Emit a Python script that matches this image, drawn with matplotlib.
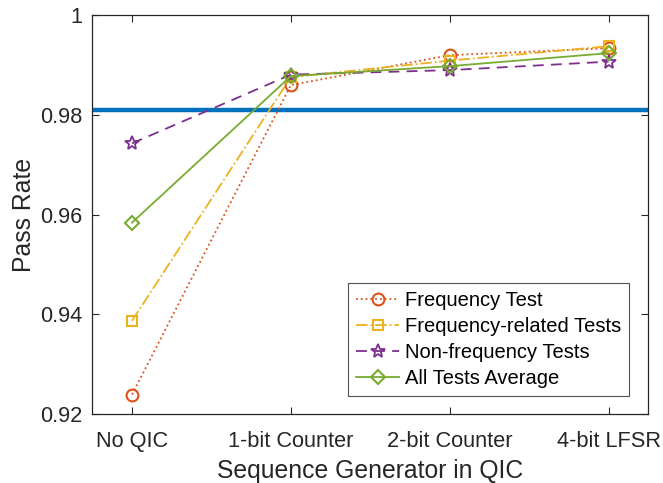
import matplotlib
matplotlib.use("Agg")
import matplotlib.pyplot as plt

categories = ["No QIC", "1-bit Counter", "2-bit Counter", "4-bit LFSR"]
freq_test = [0.9239, 0.9860, 0.9920, 0.9934]
freq_related = [0.9387, 0.9876, 0.9909, 0.9938]
non_freq = [0.9743, 0.9881, 0.9890, 0.9907]
all_avg = [0.9584, 0.9878, 0.9898, 0.9924]
threshold = 0.981
yticks = [0.92, 0.94, 0.96, 0.98, 1.0]
ytick_labels = ["0.92", "0.94", "0.96", "0.98", "1"]

plt.rcParams['font.family'] = ['Liberation Sans', 'DejaVu Sans']

fig = plt.figure(figsize=(6.63, 4.83), dpi=100)
ax = fig.add_axes([92.3/663, 1-414/483, (648.3-92.3)/663, (414-15.3)/483])

x = list(range(1, len(categories)+1))
dark = "#262626"

ax.axhline(threshold, color="#0072BD", lw=3.2, zorder=1)
ax.plot(x, freq_test, ls=':', marker='o', color="#D95319", mfc='none', ms=8.5, mew=1.5, lw=1.3, label="Frequency Test", zorder=3)
ax.plot(x, freq_related, ls='-.', marker='s', color="#EDB120", mfc='none', ms=7.5, mew=1.5, lw=1.3, label="Frequency-related Tests", zorder=3)
ax.plot(x, non_freq, ls='--', marker='*', color="#7E2F8E", mfc='none', ms=10.5, mew=1.3, lw=1.3, dashes=(6, 4), label="Non-frequency Tests", zorder=3)
ax.plot(x, all_avg, ls='-', marker='D', color="#77AC30", mfc='none', ms=7, mew=1.5, lw=1.3, label="All Tests Average", zorder=3)

ax.set_xlim(0.75, 4.25)
ax.set_ylim(0.92, 1.0)
ax.set_xticks(x)
ax.set_xticklabels(categories)
ax.set_yticks(yticks)
ax.set_yticklabels(ytick_labels)
ax.tick_params(direction='in', top=True, right=True, length=5, width=0.8, colors=dark, labelsize=15.7)
ax.tick_params(axis='x', pad=12)
ax.tick_params(axis='y', pad=7)
for s in ax.spines.values():
    s.set_color(dark)
    s.set_linewidth(0.9)

ax.set_xlabel("Sequence Generator in QIC", fontsize=17.8, color=dark, labelpad=5)
ax.set_ylabel("Pass Rate", fontsize=17.8, color=dark, labelpad=3)

leg = ax.legend(loc='lower right', bbox_to_anchor=(1 - 19.3/556, 18/398.7), borderaxespad=0,
                fontsize=14.5, frameon=True, fancybox=False, edgecolor=dark,
                handlelength=2.1, handletextpad=0.3, borderpad=0.4, labelspacing=0.35)
leg.get_frame().set_linewidth(0.8)

fig.savefig("out.png", dpi=100)
